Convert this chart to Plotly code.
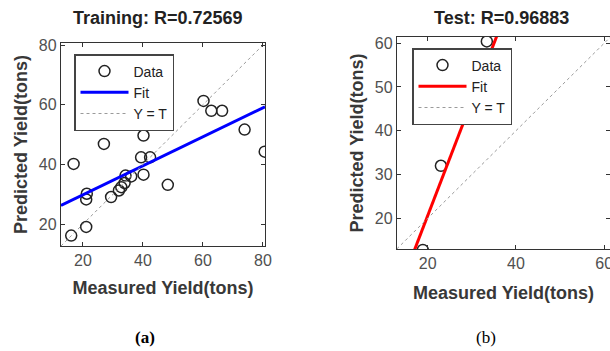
import plotly.graph_objects as go

# ---- data ----
train_measured = [16.1, 16.9, 21.1, 21.1, 21.3, 27.0, 29.4, 32.0, 32.8, 33.9, 34.2, 36.1,
                  40.2, 39.4, 42.4, 40.2, 43.7, 48.3, 60.2, 62.8, 66.4, 73.9, 80.6]
train_predicted = [16.2, 40.2, 19.1, 28.3, 30.2, 46.9, 29.1, 31.3, 32.4, 33.8, 36.3, 36.0,
                   36.6, 42.4, 42.4, 49.7, 54.7, 33.2, 61.3, 58.0, 58.0, 51.7, 44.3]
train_fit = (0.486, 20.1)        # slope, intercept
train_range = [12.7, 80.7]

test_measured = [18.9, 23.0, 33.4]
test_predicted = [12.8, 32.0, 60.4]
test_fit = (2.62, -31.8)
test_range = [13.0, 61.4]

train_ticks = [20, 40, 60, 80]
test_xticks = [20, 40, 60]
test_yticks = [20, 30, 40, 50, 60]

W, H = 610, 351
FONT = "Liberation Sans, Arial, sans-serif"

fig = go.Figure()

def add_panel(xs, ys, fit, rng, xa, ya, legend, fitcolor):
    fig.add_trace(go.Scatter(x=xs, y=ys, mode="markers", name="Data",
                             marker=dict(symbol="circle-open", size=11, color="#222",
                                         line=dict(width=1.5, color="#222")),
                             xaxis=xa, yaxis=ya, legend=legend, legendrank=1))
    fx = [rng[0], rng[1]]
    fy = [fit[0] * v + fit[1] for v in fx]
    fig.add_trace(go.Scatter(x=fx, y=fy, mode="lines", name="Fit",
                             line=dict(color=fitcolor, width=3),
                             xaxis=xa, yaxis=ya, legend=legend, legendrank=2))
    fig.add_trace(go.Scatter(x=fx, y=fx, mode="lines", name="Y = T",
                             line=dict(color="#9a9a9a", width=1, dash="dot"),
                             xaxis=xa, yaxis=ya, legend=legend, legendrank=3))

add_panel(train_measured, train_predicted, train_fit, train_range, "x", "y", "legend", "#0000ff")
add_panel(test_measured, test_predicted, test_fit, test_range, "x2", "y2", "legend2", "#ff0000")

axis_common = dict(showgrid=False, zeroline=False, showline=True, linecolor="#333",
                   linewidth=1.3, mirror="ticks", ticks="inside", ticklen=4,
                   tickcolor="#333", tickwidth=1, automargin=False,
                   ticklabeloverflow="allow",
                   tickfont=dict(family=FONT, size=16, color="#505050"))
title_font = dict(family=FONT, size=18, color="#383838")

legend_common = dict(xanchor="left", yanchor="top", bgcolor="white", bordercolor="#444",
                     borderwidth=1.5, font=dict(family=FONT, size=14, color="#222"),
                     itemwidth=48, tracegroupgap=0)

fig.update_layout(
    width=W, height=H, margin=dict(l=0, r=0, t=0, b=0, autoexpand=False),
    paper_bgcolor="white", plot_bgcolor="white", showlegend=True,
    xaxis=dict(domain=[61 / W, 265 / W], range=train_range, tickvals=train_ticks,
               title=dict(text="<b>Measured Yield(tons)</b>", font=title_font, standoff=13),
               anchor="y", **axis_common),
    yaxis=dict(domain=[1 - 246 / H, 1 - 43 / H], range=train_range, tickvals=train_ticks,
               title=dict(text="<b>Predicted Yield(tons)</b>", font=title_font, standoff=6),
               anchor="x", **axis_common),
    xaxis2=dict(domain=[397 / W, 1.0], range=[13.05, 61.3], tickvals=test_xticks,
                title=dict(text="<b>Measured Yield(tons)</b>", font=title_font, standoff=15),
                anchor="y2", **axis_common),
    yaxis2=dict(domain=[1 - 249 / H, 1 - 37 / H], range=test_range, tickvals=test_yticks,
                title=dict(text="<b>Predicted Yield(tons)</b>", font=title_font, standoff=6),
                anchor="x2", **axis_common),
    legend=dict(x=74 / W, y=1 - 54 / H, **legend_common),
    legend2=dict(x=412 / W, y=1 - 48 / H, **legend_common),
    annotations=[
        dict(text="<b>Training: R=0.72569</b>", x=158 / W, y=1 - 18 / H, xref="paper", yref="paper",
             xanchor="center", yanchor="middle",
             showarrow=False, font=dict(family=FONT, size=18, color="#222")),
        dict(text="<b>Test: R=0.96883</b>", x=501 / W, y=1 - 18 / H, xref="paper", yref="paper",
             xanchor="center", yanchor="middle",
             showarrow=False, font=dict(family=FONT, size=18, color="#222")),
        dict(text="<b>(a)</b>", x=145 / W, y=1 - 337 / H, xref="paper", yref="paper",
             xanchor="center", yanchor="middle",
             showarrow=False, font=dict(family="Liberation Serif, Times New Roman, serif", size=17, color="#000")),
        dict(text="(b)", x=486 / W, y=1 - 337 / H, xref="paper", yref="paper",
             xanchor="center", yanchor="middle",
             showarrow=False, font=dict(family="Liberation Serif, Times New Roman, serif", size=17, color="#000")),
    ],
)

fig.write_html("out.html")
